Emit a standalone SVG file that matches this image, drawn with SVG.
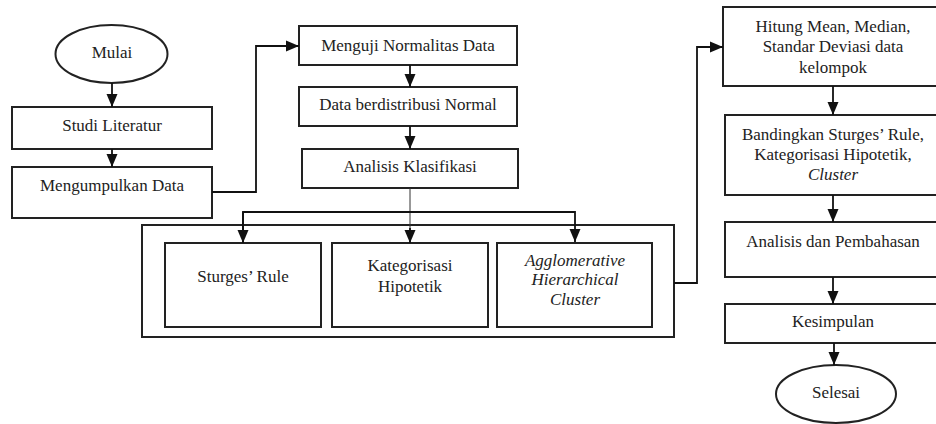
<svg xmlns="http://www.w3.org/2000/svg" width="936" height="424" viewBox="0 0 936 424" font-family="'Liberation Serif', 'Times New Roman', serif">
<defs>
<marker id="ah" markerUnits="userSpaceOnUse" markerWidth="14" markerHeight="14" viewBox="0 0 14 14" refX="13" refY="7" orient="auto">
<path d="M0,1.5 L13,7 L0,12.5 Z" fill="#111"/>
</marker>
<style>
.box{fill:#fff;stroke:#222;stroke-width:2}
.c{fill:none;stroke:#111;stroke-width:1.8}
.thin{fill:none;stroke:#333;stroke-width:1}
.t{font-family:'Liberation Serif','Times New Roman',serif;font-size:17px;fill:#222;text-anchor:middle}
.i{font-style:italic}
</style>
</defs>
<rect width="936" height="424" fill="#fff"/>
<g id="mulai"><ellipse class="box" cx="111.5" cy="54" rx="56" ry="29"/><text class="t" x="112" y="58">Mulai</text></g>
<g id="studi"><rect class="box" x="12" y="107" width="200" height="42"/><text class="t" x="112" y="131">Studi Literatur</text></g>
<g id="kumpul"><rect class="box" x="12" y="167" width="200" height="51"/><text class="t" x="112" y="191">Mengumpulkan Data</text></g>
<g id="uji"><rect class="box" x="299" y="26" width="218" height="39"/><text class="t" x="408" y="51">Menguji Normalitas Data</text></g>
<g id="normal"><rect class="box" x="299" y="87" width="218" height="39"/><text class="t" x="408" y="110">Data berdistribusi Normal</text></g>
<g id="klasifikasi"><rect class="box" x="302" y="149" width="216" height="39"/><text class="t" x="410" y="172">Analisis Klasifikasi</text></g>
<g id="wadah"><rect class="box" x="142" y="225" width="532" height="112"/></g>
<g id="sturges"><rect class="box" x="165" y="243" width="156" height="84"/><text class="t" x="243" y="282">Sturges’ Rule</text></g>
<g id="kategori"><rect class="box" x="332" y="243" width="156" height="84"/><text class="t" x="410" y="271">Kategorisasi</text><text class="t" x="410" y="292">Hipotetik</text></g>
<g id="agglo"><rect class="box" x="497" y="243" width="155" height="84"/><text class="t i" x="575" y="266">Agglomerative</text><text class="t i" x="575" y="285">Hierarchical</text><text class="t i" x="575" y="305">Cluster</text></g>
<g id="hitung"><rect class="box" x="723" y="7" width="222" height="79"/><text class="t" x="833" y="32">Hitung Mean, Median,</text><text class="t" x="833" y="52">Standar Deviasi data</text><text class="t" x="833" y="73">kelompok</text></g>
<g id="banding"><rect class="box" x="725" y="115" width="220" height="80"/><text class="t" x="833" y="140">Bandingkan Sturges’ Rule,</text><text class="t" x="833" y="160">Kategorisasi Hipotetik,</text><text class="t i" x="833" y="180">Cluster</text></g>
<g id="bahas"><rect class="box" x="725" y="222" width="220" height="55"/><text class="t" x="833" y="247">Analisis dan Pembahasan</text></g>
<g id="simpul"><rect class="box" x="725" y="304" width="220" height="39"/><text class="t" x="833" y="327">Kesimpulan</text></g>
<g id="selesai"><ellipse class="box" cx="836" cy="394" rx="60" ry="29"/><text class="t" x="836" y="398">Selesai</text></g>
<g id="connectors">
<line class="c" x1="112" y1="83" x2="112" y2="107" marker-end="url(#ah)"/>
<line class="c" x1="112" y1="149" x2="112" y2="167" marker-end="url(#ah)"/>
<polyline class="c" points="212,192 256,192 256,46 299,46" marker-end="url(#ah)"/>
<line class="c" x1="410" y1="65" x2="410" y2="87" marker-end="url(#ah)"/>
<line class="c" x1="410" y1="126" x2="410" y2="149" marker-end="url(#ah)"/>
<line class="thin" x1="410" y1="188" x2="410" y2="230"/>
<polyline class="c" points="243,242 243,212 575,212 575,242" marker-end="url(#ah)"/>
<line class="c" x1="243" y1="212" x2="243" y2="243" marker-end="url(#ah)"/>
<line class="c" x1="410" y1="228" x2="410" y2="243" marker-end="url(#ah)"/>
<polyline class="c" points="674,283 697,283 697,47 723,47" marker-end="url(#ah)"/>
<line class="c" x1="833" y1="86" x2="833" y2="115" marker-end="url(#ah)"/>
<line class="c" x1="833" y1="195" x2="833" y2="222" marker-end="url(#ah)"/>
<line class="c" x1="833" y1="277" x2="833" y2="304" marker-end="url(#ah)"/>
<line class="c" x1="834" y1="343" x2="834" y2="365" marker-end="url(#ah)"/>
</g>
</svg>
